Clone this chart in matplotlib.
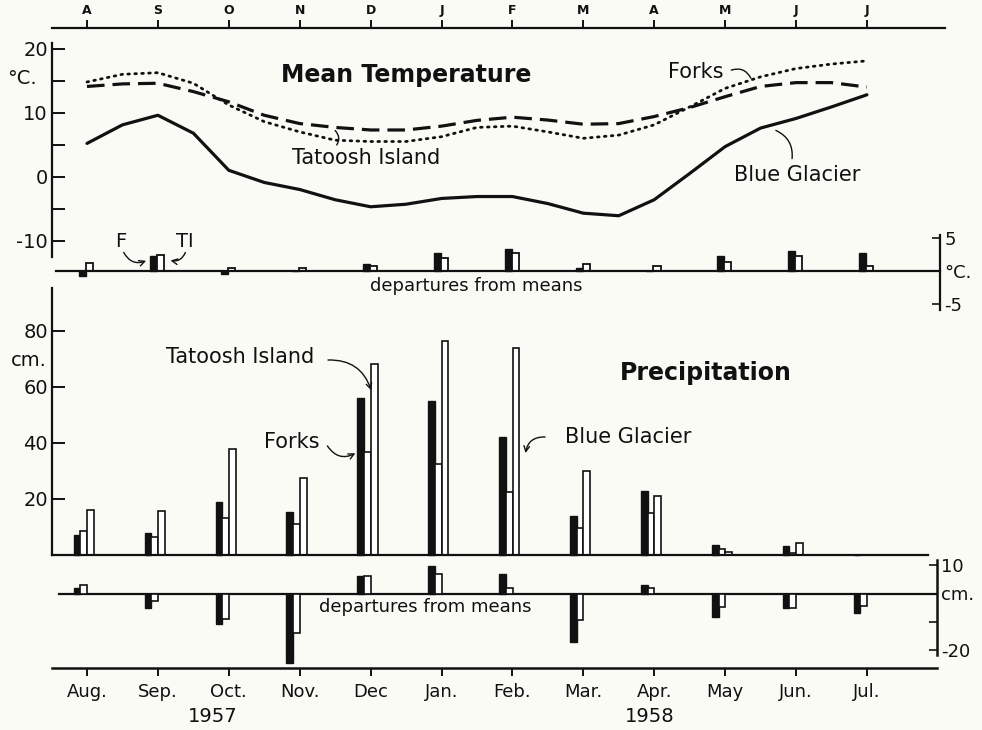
import numpy as np
import matplotlib.pyplot as plt

plt.rcParams['font.family'] = ['DejaVu Sans']

# month labels, Aug 1957 - Jul 1958
months_top = ['A', 'S', 'O', 'N', 'D', 'J', 'F', 'M', 'A', 'M', 'J', 'J']
months_bottom = ['Aug.', 'Sep.', 'Oct.', 'Nov.', 'Dec', 'Jan.', 'Feb.',
                 'Mar.', 'Apr.', 'May', 'Jun.', 'Jul.']

# mean temperature (deg C) read at half-month steps
temp_pos = np.arange(0, 11.5, 0.5)
temp_blue_glacier = [5.2, 8.1, 9.6, 6.8, 1.0, -0.9, -2.0, -3.6, -4.7, -4.3, -3.4, -3.1,
                     -3.1, -4.2, -5.7, -6.1, -3.6, 0.5, 4.7, 7.6, 9.1, 10.9, 12.8]
temp_tatoosh = [14.1, 14.5, 14.6, 13.3, 11.7, 9.6, 8.3, 7.7, 7.3, 7.3, 7.9, 8.8,
                9.3, 8.85, 8.2, 8.3, 9.4, 10.8, 12.5, 14.1, 14.7, 14.7, 14.0]
temp_forks = [14.8, 16.0, 16.25, 14.6, 11.2, 8.6, 7.0, 5.7, 5.5, 5.5, 6.25, 7.7,
              7.9, 7.0, 6.0, 6.5, 8.1, 10.9, 13.8, 15.6, 16.9, 17.6, 18.1]

# monthly temperature departures from means (deg C)
tdep_forks = [-0.8, 2.3, -0.4, 0.0, 1.1, 2.8, 3.4, 0.4, 0.0, 2.3, 3.0, 2.8]
tdep_tatoosh = [1.2, 2.5, 0.5, 0.4, 0.8, 2.0, 2.8, 1.1, 0.8, 1.3, 2.2, 0.8]

# monthly precipitation (cm)
prec_forks = [7.1, 8.0, 18.8, 15.5, 56.2, 55.0, 42.3, 13.9, 23.0, 3.5, 3.1, 0.0]
prec_tatoosh = [8.5, 6.5, 13.1, 11.0, 36.9, 32.6, 22.5, 9.8, 14.9, 2.3, 0.6, 0.0]
prec_blue_glacier = [16.1, 15.7, 37.7, 27.6, 68.1, 76.4, 73.8, 30.0, 21.1, 1.2, 4.2, 0.0]

# monthly precipitation departures from means (cm)
pdep_forks = [1.8, -5.0, -10.7, -24.9, 6.3, 9.8, 6.9, -17.1, 3.1, -8.5, -5.2, -7.1]
pdep_tatoosh = [3.1, -2.6, -9.1, -13.9, 6.3, 7.1, 2.1, -9.5, 2.1, -4.7, -5.2, -4.4]

x = np.arange(len(months_top))

W, H = 982, 730
LEFT, RIGHT = 52, 945
PX_MONTH = 70.9
X0 = 87
xlim = ((LEFT - X0) / PX_MONTH, (RIGHT - X0) / PX_MONTH)
ink = '#111111'
paper = '#fbfbf6'


def px_x(px):
    return (px - X0) / PX_MONTH


def rect(top, bottom):
    return [LEFT / W, 1 - bottom / H, (RIGHT - LEFT) / W, (bottom - top) / H]


fig = plt.figure(figsize=(W / 100, H / 100), dpi=100, facecolor=paper)

# ---- mean temperature ----
ax_t = fig.add_axes(rect(28, 258))
ax_t.set_facecolor('none')
ax_t.set_xlim(*xlim)
ax_t.set_ylim((176.7 - 258) / 6.4, (176.7 - 28) / 6.4)
ax_t.plot(temp_pos, temp_blue_glacier, color=ink, lw=2.3, solid_capstyle='round',
          solid_joinstyle='round')
ax_t.plot(temp_pos, temp_tatoosh, color=ink, lw=2.3, ls=(0, (5.5, 2.5)))
ax_t.plot(temp_pos, temp_forks, color=ink, lw=2.0, ls=(0, (0.6, 1.9)),
          dash_capstyle='round')
for s in ['right', 'bottom']:
    ax_t.spines[s].set_visible(False)
for s in ['left', 'top']:
    ax_t.spines[s].set_linewidth(1.6)
    ax_t.spines[s].set_color(ink)
ax_t.spines['left'].set_bounds(-12.55, 20.9)
ax_t.set_yticks([-10, 0, 10, 20])
ax_t.set_yticklabels(['-10', '0', '10', '20'])
ax_t.set_yticks([-5, 5, 15], minor=True)
ax_t.tick_params(axis='y', which='both', direction='in', length=9, width=1.4,
                 labelsize=14, pad=3, colors=ink)
ax_t.xaxis.tick_top()
ax_t.set_xticks(x)
ax_t.set_xticklabels(months_top, fontweight='bold')
ax_t.tick_params(axis='x', direction='out', length=6, width=1.4, labelsize=9,
                 pad=2, colors=ink)
ax_t.text(-1.12, 15.3, '\u00b0C.', fontsize=14, color=ink, ha='left', va='center')
ax_t.text(4.5, 15.9, 'Mean Temperature', fontsize=17, fontweight='bold',
          color=ink, ha='center', va='center')
ax_t.text(8.98, 16.4, 'Forks', fontsize=15, color=ink, ha='right', va='center')
ax_t.annotate('', xy=(9.38, 15.0), xytext=(9.05, 16.5),
              arrowprops=dict(arrowstyle='-', color=ink, lw=1,
                              connectionstyle='arc3,rad=-0.5'))
ax_t.text(3.94, 3.0, 'Tatoosh Island', fontsize=15, color=ink, ha='center', va='center')
ax_t.annotate('', xy=(3.47, 7.5), xytext=(3.5, 4.6),
              arrowprops=dict(arrowstyle='-', color=ink, lw=1,
                              connectionstyle='arc3,rad=0.5'))
ax_t.text(10.01, 0.2, 'Blue Glacier', fontsize=15, color=ink, ha='center', va='center')
ax_t.annotate('', xy=(9.68, 7.4), xytext=(9.94, 2.4),
              arrowprops=dict(arrowstyle='-', color=ink, lw=1,
                              connectionstyle='arc3,rad=0.4'))

# ---- temperature departures ----
ax_td = fig.add_axes(rect(232, 312))
ax_td.set_facecolor('none')
ax_td.set_xlim(*xlim)
ax_td.set_ylim((271 - 312) / 6.6, (271 - 232) / 6.6)
ax_td.bar(x - 0.06, tdep_forks, width=0.1, color=ink, edgecolor=ink, lw=1.0)
ax_td.bar(x + 0.04, tdep_tatoosh, width=0.1, color='white', edgecolor=ink, lw=1.3)
for s in ['left', 'top']:
    ax_td.spines[s].set_visible(False)
ax_td.spines['bottom'].set_position(('data', 0))
ax_td.spines['bottom'].set_bounds(px_x(56), px_x(940))
ax_td.spines['right'].set_position(('data', px_x(940)))
ax_td.spines['right'].set_bounds(-5.9, 5.45)
for s in ['right', 'bottom']:
    ax_td.spines[s].set_linewidth(1.6)
    ax_td.spines[s].set_color(ink)
ax_td.set_xticks([])
ax_td.yaxis.tick_right()
ax_td.set_yticks([5, 0, -5])
ax_td.set_yticklabels(['5', '\u00b0C.', '-5'])
ax_td.tick_params(axis='y', direction='in', length=6, width=1.2, labelsize=13,
                  pad=3, colors=ink)
ax_td.text(5.49, -2.2, 'departures from means', fontsize=13, color=ink,
           ha='center', va='center')
ax_td.text(0.47, 4.4, 'F', fontsize=14, color=ink, ha='center', va='center')
ax_td.text(1.38, 4.4, 'TI', fontsize=14, color=ink, ha='center', va='center')
ax_td.annotate('', xy=(0.87, 1.7), xytext=(0.5, 3.2),
               arrowprops=dict(arrowstyle='->', color=ink, lw=1,
                               connectionstyle='arc3,rad=0.5'))
ax_td.annotate('', xy=(1.14, 1.7), xytext=(1.4, 3.2),
               arrowprops=dict(arrowstyle='->', color=ink, lw=1,
                               connectionstyle='arc3,rad=-0.5'))

# ---- precipitation ----
ax_p = fig.add_axes(rect(285, 560))
ax_p.set_facecolor('none')
ax_p.set_xlim(*xlim)
ax_p.set_ylim((555 - 560) / 2.8, (555 - 285) / 2.8)
ax_p.bar(x - 0.14, prec_forks, width=0.095, color=ink, edgecolor=ink, lw=1.0)
ax_p.bar(x - 0.045, prec_tatoosh, width=0.095, color='white', edgecolor=ink, lw=1.2)
ax_p.bar(x + 0.05, prec_blue_glacier, width=0.095, color='white', edgecolor=ink, lw=1.2)
for s in ['right', 'top']:
    ax_p.spines[s].set_visible(False)
ax_p.spines['bottom'].set_position(('data', 0))
ax_p.spines['bottom'].set_bounds(xlim[0], px_x(928))
ax_p.spines['left'].set_bounds(0, 95.5)
for s in ['left', 'bottom']:
    ax_p.spines[s].set_linewidth(1.6)
    ax_p.spines[s].set_color(ink)
ax_p.set_xticks([])
ax_p.set_yticks([20, 40, 60, 80])
ax_p.tick_params(axis='y', direction='in', length=9, width=1.4, labelsize=14,
                 pad=3, colors=ink)
ax_p.text(-1.08, 69.5, 'cm.', fontsize=14, color=ink, ha='left', va='center')
ax_p.text(8.73, 65.0, 'Precipitation', fontsize=17, fontweight='bold',
          color=ink, ha='center', va='center')
ax_p.text(2.16, 70.7, 'Tatoosh Island', fontsize=15, color=ink, ha='center', va='center')
ax_p.annotate('', xy=(4.02, 57.9), xytext=(3.36, 69.6),
              arrowprops=dict(arrowstyle='->', color=ink, lw=1,
                              connectionstyle='arc3,rad=-0.4'))
ax_p.text(2.89, 40.4, 'Forks', fontsize=15, color=ink, ha='center', va='center')
ax_p.annotate('', xy=(3.82, 36.8), xytext=(3.37, 39.8),
              arrowprops=dict(arrowstyle='->', color=ink, lw=1,
                              connectionstyle='arc3,rad=0.5'))
ax_p.text(7.63, 42.1, 'Blue Glacier', fontsize=15, color=ink, ha='center', va='center')
ax_p.annotate('', xy=(6.18, 35.4), xytext=(6.5, 42.1),
              arrowprops=dict(arrowstyle='->', color=ink, lw=1,
                              connectionstyle='arc3,rad=0.5'))

# ---- precipitation departures ----
ax_pd = fig.add_axes(rect(560, 668))
ax_pd.set_facecolor('none')
ax_pd.set_xlim(*xlim)
ax_pd.set_ylim((593.5 - 668) / 2.81, (593.5 - 560) / 2.81)
ax_pd.bar(x - 0.14, pdep_forks, width=0.095, color=ink, edgecolor=ink, lw=1.0)
ax_pd.bar(x - 0.045, pdep_tatoosh, width=0.095, color='white', edgecolor=ink, lw=1.2)
ax_pd.axhline(0, xmin=(59 - LEFT) / (RIGHT - LEFT), xmax=(937 - LEFT) / (RIGHT - LEFT),
              color=ink, lw=1.6, zorder=0.5)
for s in ['left', 'top']:
    ax_pd.spines[s].set_visible(False)
ax_pd.spines['right'].set_position(('data', px_x(937)))
ax_pd.spines['right'].set_bounds(-21.9, 11.9)
ax_pd.spines['bottom'].set_bounds(xlim[0], px_x(937))
for s in ['right', 'bottom']:
    ax_pd.spines[s].set_linewidth(1.8)
    ax_pd.spines[s].set_color(ink)
ax_pd.yaxis.tick_right()
ax_pd.set_yticks([10, 0, -10, -20])
ax_pd.set_yticklabels(['10', 'cm.', '', '-20'])
ax_pd.tick_params(axis='y', direction='in', length=6, width=1.2, labelsize=13,
                  pad=3, colors=ink)
ax_pd.set_xticks(x)
ax_pd.set_xticklabels(months_bottom)
ax_pd.tick_params(axis='x', direction='out', length=6, width=1.4, labelsize=13,
                  pad=5, colors=ink)
ax_pd.text(4.77, -4.8, 'departures from means', fontsize=13, color=ink,
           ha='center', va='center')

fig.text(213 / W, 1 - 717 / H, '1957', fontsize=14, color=ink, ha='center', va='center')
fig.text(650 / W, 1 - 717 / H, '1958', fontsize=14, color=ink, ha='center', va='center')

fig.savefig('out.png', dpi=100, facecolor=paper)
